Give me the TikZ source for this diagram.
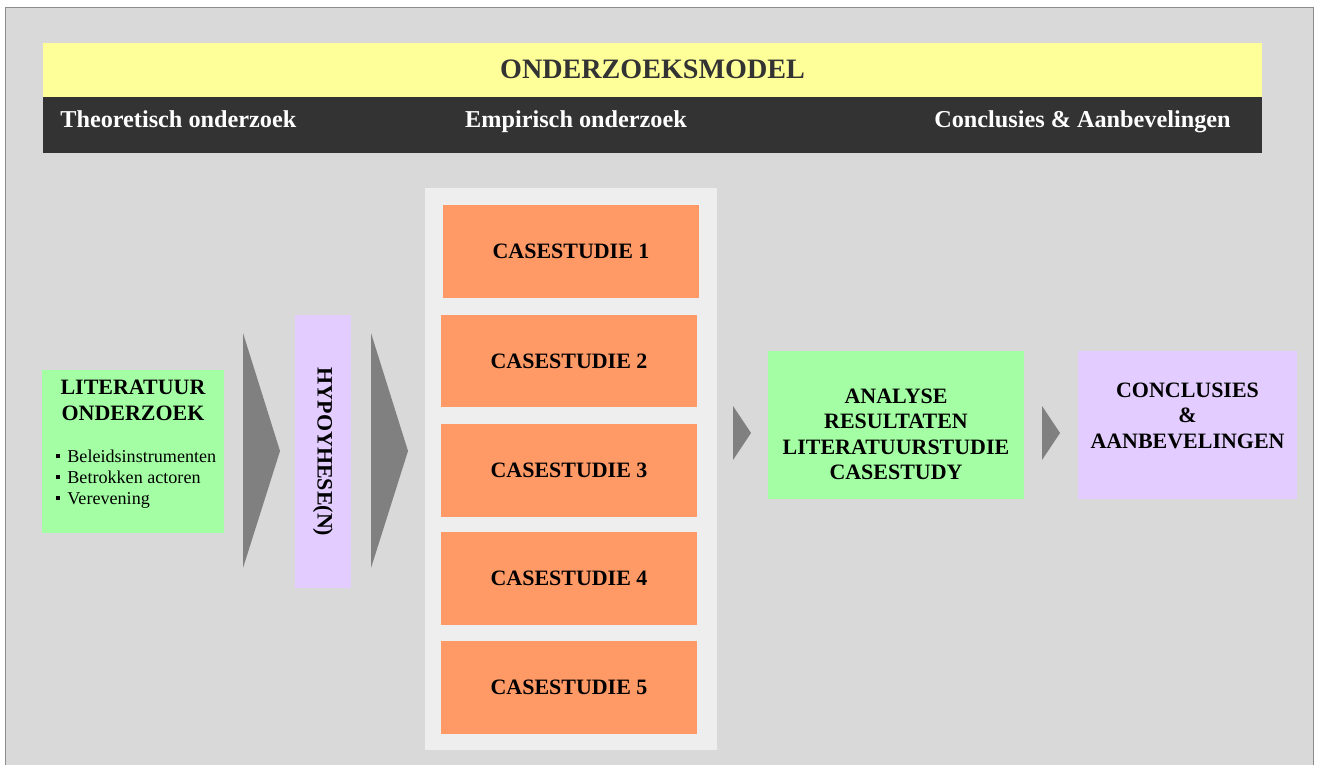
\documentclass[tikz,border=0pt]{standalone}
\usepackage{fontspec}
\setmainfont{Liberation Serif}
\usetikzlibrary{positioning}

\definecolor{framegray}{HTML}{D9D9D9}
\definecolor{frameline}{HTML}{8C8C8C}
\definecolor{titleyellow}{HTML}{FFFF99}
\definecolor{bardark}{HTML}{333333}
\definecolor{panelgray}{HTML}{EEEEEE}
\definecolor{caseorange}{HTML}{FF9966}
\definecolor{boxgreen}{HTML}{A4FFA4}
\definecolor{boxlilac}{HTML}{E3CCFF}
\definecolor{chevrongray}{HTML}{808080}

\newcommand{\sqbullet}{\rule[0.22em]{2.3pt}{2.3pt}\hspace{4pt}}

\tikzset{
  plainbox/.style={inner sep=0pt, draw=none},
  boldtext/.style={inner sep=0pt, align=center, font=\bfseries\fontsize{12.5}{14.5}\selectfont},
  barlabel/.style={inner sep=0pt, text=white, font=\bfseries\fontsize{13.8}{16}\selectfont},
  casebox/.style={plainbox, fill=caseorange, minimum width=5.12cm, minimum height=1.86cm,
    font=\bfseries\fontsize{12.5}{14.5}\selectfont},
}

\begin{document}
\begin{tikzpicture}[x=0.02cm, y=-0.02cm]
        \useasboundingbox (0,0) rectangle (1317,764);

        % Background frame
        \fill[white] (0,0) rectangle (1317,764);
        \filldraw[fill=framegray, draw=frameline, line width=0.6pt] (5.5,7.5) rectangle (1313.5,770);

        % Title bars
        \fill[titleyellow] (43,43) rectangle (1262,97);
        \fill[bardark] (43,97) rectangle (1262,153);
        \node[inner sep=0pt, anchor=base, font=\bfseries\fontsize{16}{18}\selectfont, text=bardark] (model) at (652.5,78) {ONDERZOEKSMODEL};
        \node[barlabel, anchor=base west] (theorie) at (60,127) {Theoretisch onderzoek};
        \node[barlabel, anchor=base] (empirie) at (576,127) {Empirisch onderzoek};
        \node[barlabel, anchor=base east] (conclusie) at (1231,127) {Conclusies \& Aanbevelingen};

        % Panel behind the case studies
        \node[plainbox, fill=panelgray, minimum width=5.84cm, minimum height=11.24cm] (panel) at (571,469) {};
        \foreach \i/\x/\y in {1/571/251.5, 2/569/361, 3/569/470, 4/569/578, 5/569/687}
            \node[casebox] (case\i) at (\x,\y) {CASESTUDIE \i};

        % Literature study
        \node[plainbox, fill=boxgreen, minimum width=3.64cm, minimum height=3.26cm] (lit) at (133,451.5) {};
        \node[boldtext] (littitle) at (133,400.5) {LITERATUUR\\ONDERZOEK};
        \node[inner sep=0pt, anchor=west, align=left, font=\fontsize{10.3}{11.9}\selectfont] (litlist) at (56,479)
            {\sqbullet Beleidsinstrumenten\\\sqbullet Betrokken actoren\\\sqbullet Verevening};

        % Hypotheses, text turned on its side
        \node[plainbox, fill=boxlilac, minimum width=1.12cm, minimum height=5.46cm] (hyp) at (323,451.5) {};
        \node[boldtext, rotate=-90] (hyptext) at (323,452) {HYPOYHESE(N)};

        % Analysis and conclusions
        \node[plainbox, fill=boxgreen, minimum width=5.12cm, minimum height=2.96cm] (analyse) at (896,425) {};
        \node[boldtext] (analysetext) at (896,434.5) {ANALYSE\\RESULTATEN\\LITERATUURSTUDIE\\CASESTUDY};
        \node[plainbox, fill=boxlilac, minimum width=4.38cm, minimum height=2.96cm] (concl) at (1187.5,425) {};
        \node[boldtext] (concltext) at (1187.5,415.5) {CONCLUSIES\\\&\\AANBEVELINGEN};

        % Chevrons between the steps
        \fill[chevrongray] (243,333) -- (280,451) -- (243,568) -- cycle;
        \fill[chevrongray] (371,333) -- (408,451) -- (371,568) -- cycle;
        \fill[chevrongray] (733,406) -- (751,433) -- (733,460) -- cycle;
        \fill[chevrongray] (1042,406) -- (1060,433) -- (1042,460) -- cycle;
    \end{tikzpicture}
\end{document}
